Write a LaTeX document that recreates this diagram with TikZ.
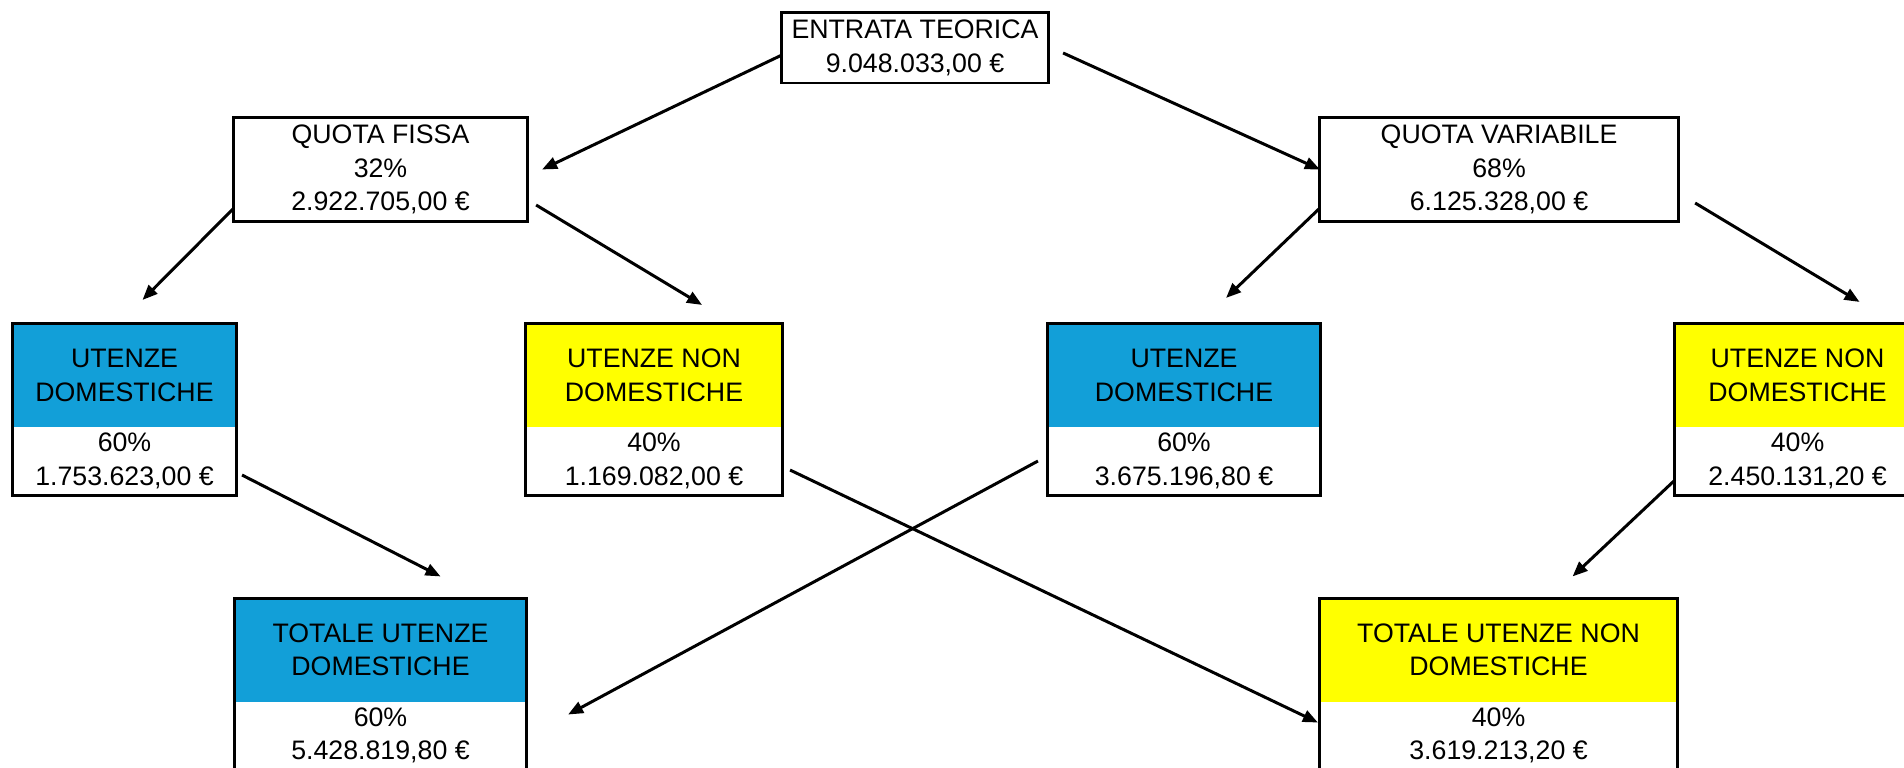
\documentclass[tikz,border=0pt]{standalone}
\usepackage{fontspec}
\setmainfont{Liberation Sans}
\usetikzlibrary{arrows.meta,positioning}
\definecolor{domblue}{RGB}{18,159,216}
\definecolor{nondomyellow}{RGB}{255,255,0}

\begin{document}
\begin{tikzpicture}[x=0.01cm, y=-0.01cm, font=\fontsize{7.6}{9.5}\selectfont,
		box/.style={draw, line width=0.85pt, align=center, inner sep=0pt, outer sep=0pt},
		hdr/.style={align=center, inner sep=0pt, outer sep=0pt, minimum height=1.03cm},
		val/.style={align=center, inner sep=0pt, outer sep=0pt, minimum height=0.68cm},
		arr/.style={-{Triangle[length=0.15cm,width=0.12cm]}, line width=0.85pt}]
		\clip (0,0) rectangle (1904,768);
		\node[box, minimum width=2.66cm, minimum height=0.70cm] (entrata) at (915,48) {ENTRATA TEORICA\\9.048.033,00 €};
		\node[box, minimum width=2.93cm, minimum height=1.03cm] (fissa) at (380.5,169.5) {QUOTA FISSA\\32\%\\2.922.705,00 €};
		\node[box, minimum width=3.58cm, minimum height=1.03cm] (variabile) at (1499,169.5) {QUOTA VARIABILE\\68\%\\6.125.328,00 €};
		\foreach \nm/\x/\y/\bw/\col/\txt/\pct/\amt in {
				udl/124.5/375.5/2.23/domblue/{UTENZE\\DOMESTICHE}/60/{1.753.623,00},
				undl/654/375.5/2.56/nondomyellow/{UTENZE NON\\DOMESTICHE}/40/{1.169.082,00},
				udr/1184/375.5/2.72/domblue/{UTENZE\\DOMESTICHE}/60/{3.675.196,80},
				undr/1797.5/375.5/2.45/nondomyellow/{UTENZE NON\\DOMESTICHE}/40/{2.450.131,20},
				tud/380.5/650/2.91/domblue/{TOTALE UTENZE\\DOMESTICHE}/60/{5.428.819,80},
				tund/1498.5/650/3.57/nondomyellow/{TOTALE UTENZE NON\\DOMESTICHE}/40/{3.619.213,20}}
			{
			\node[hdr, fill=\col, minimum width=\bw cm] (\nm) at (\x,\y) {\txt};
			\node[val, minimum width=\bw cm, below=0pt of \nm] (\nm-v) {\pct\%\\\amt\ €};
			\draw[line width=0.85pt] (\nm.north west) rectangle (\nm-v.south east);
			}
		\draw[arr] ([yshift=-0.07cm]entrata.west) -- ([xshift=0.15cm]fissa.east);
		\draw[arr] ([xshift=0.15cm,yshift=-0.05cm]entrata.east) -- (variabile.west);
		\draw[arr] ([yshift=0.13cm]fissa.south west) -- ([xshift=0.18cm,yshift=0.24cm]udl.north);
		\draw[arr] ([xshift=0.09cm,yshift=0.16cm]fissa.south east) -- ([xshift=0.48cm,yshift=0.19cm]undl.north);
		\draw[arr] ([yshift=0.13cm]variabile.south west) -- ([xshift=0.42cm,yshift=0.26cm]udr.north);
		\draw[arr] ([xshift=0.17cm,yshift=0.18cm]variabile.south east) -- ([xshift=0.62cm,yshift=0.22cm]undr.north);
		\draw[arr] ([xshift=0.06cm,yshift=-0.14cm]udl-v.east) -- ([xshift=0.60cm,yshift=0.22cm]tud.north);
		\draw[arr] ([xshift=0.08cm,yshift=0.25cm]undl-v.south east) -- ([xshift=-0.02cm,yshift=-0.21cm]tund-v.north west);
		\draw[arr] ([xshift=-0.10cm]udr-v.west) -- ([xshift=0.42cm,yshift=-0.13cm]tud-v.north east);
		\draw[arr] ([yshift=-0.19cm]undr-v.west) -- ([xshift=0.74cm,yshift=0.22cm]tund.north);
	\end{tikzpicture}
\end{document}
